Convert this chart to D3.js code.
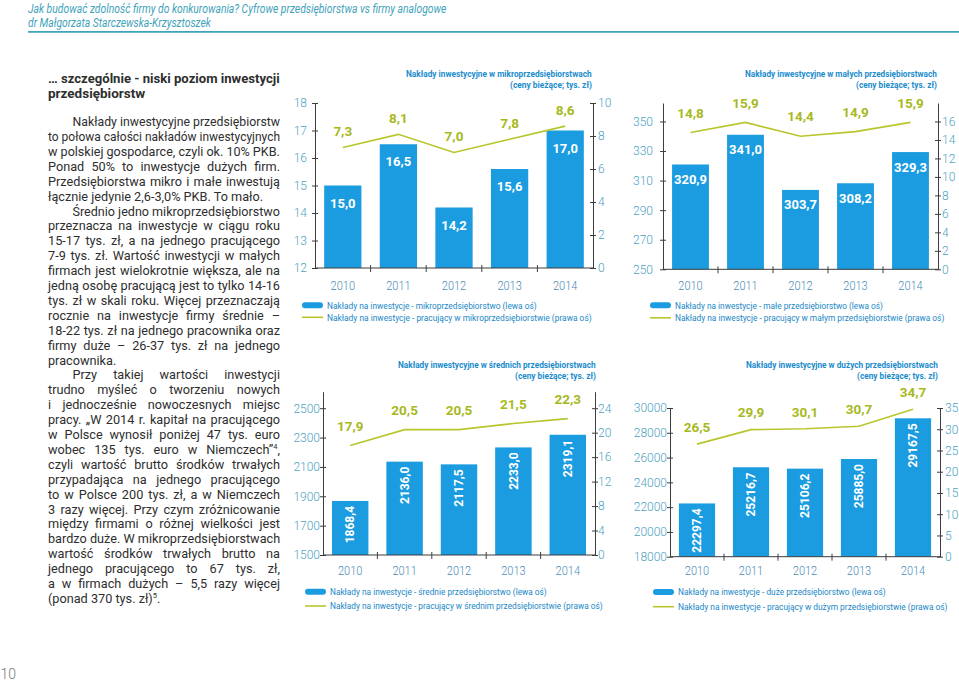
<!DOCTYPE html>
<html>
<head>
<meta charset="utf-8">
<script src="https://cdn.jsdelivr.net/npm/d3@7"></script>
<style>
  html, body { margin: 0; padding: 0; background: #fff; }
  svg { display: block; font-family: Roboto, "Noto Sans", sans-serif; }
</style>
</head>
<body>
<svg id="page" width="959" height="681"></svg>
<script>
// ---- data ----
const years = ['2010', '2011', '2012', '2013', '2014'];

const microFirm = [15.0, 16.5, 14.2, 15.6, 17.0];
const microWorker = [7.3, 8.1, 7.0, 7.8, 8.6];
const microLeftTicks = [12, 13, 14, 15, 16, 17, 18];
const microRightTicks = [0, 2, 4, 6, 8, 10];

const smallFirm = [320.9, 341.0, 303.7, 308.2, 329.3];
const smallWorker = [14.8, 15.9, 14.4, 14.9, 15.9];
const smallLeftTicks = [250, 270, 290, 310, 330, 350];
const smallRightTicks = [0, 2, 4, 6, 8, 10, 12, 14, 16];

const mediumFirm = [1868.4, 2136.0, 2117.5, 2233.0, 2319.1];
const mediumWorker = [17.9, 20.5, 20.5, 21.5, 22.3];
const mediumLeftTicks = [1500, 1700, 1900, 2100, 2300, 2500];
const mediumRightTicks = [0, 4, 8, 12, 16, 20, 24];

const largeFirm = [22297.4, 25216.7, 25106.2, 25885.0, 29167.5];
const largeWorker = [26.5, 29.9, 30.1, 30.7, 34.7];
const largeLeftTicks = [18000, 20000, 22000, 24000, 26000, 28000, 30000];
const largeRightTicks = [0, 5, 10, 15, 20, 25, 30, 35];

const microTitle = ['Nakłady inwestycyjne w mikroprzedsiębiorstwach', '(ceny bieżące; tys. zł)'];
const smallTitle = ['Nakłady inwestycyjne w małych przedsiębiorstwach', '(ceny bieżące; tys. zł)'];
const mediumTitle = ['Nakłady inwestycyjne w średnich przedsiębiorstwach', '(ceny bieżące; tys. zł)'];
const largeTitle = ['Nakłady inwestycyjne w dużych przedsiębiorstwach', '(ceny bieżące; tys. zł)'];

const microLegend = ['Nakłady na inwestycje - mikroprzedsiębiorstwo (lewa oś)', 'Nakłady na inwestycje - pracujący w mikroprzedsiębiorstwie (prawa oś)'];
const smallLegend = ['Nakłady na inwestycje - małe przedsiębiorstwo (lewa oś)', 'Nakłady na inwestycje - pracujący w małym przedsiębiorstwie (prawa oś)'];
const mediumLegend = ['Nakłady na inwestycje - średnie przedsiębiorstwo (lewa oś)', 'Nakłady na inwestycje - pracujący w średnim przedsiębiorstwie (prawa oś)'];
const largeLegend = ['Nakłady na inwestycje - duże przedsiębiorstwo (lewa oś)', 'Nakłady na inwestycje - pracujący w dużym przedsiębiorstwie (prawa oś)'];

const headerLines = ['Jak budować zdolność firmy do konkurowania? Cyfrowe przedsiębiorstwa vs firmy analogowe', 'dr Małgorzata Starczewska-Krzysztoszek'];
const headingLines = ['… szczególnie - niski poziom inwestycji', 'przedsiębiorstw|'];
// '>' = indented first line, '|' = last line of paragraph (not justified), ^n = superscript
const bodyLines = [
  '>Nakłady inwestycyjne przedsiębiorstw',
  'to połowa całości nakładów inwestycyjnych',
  'w polskiej gospodarce, czyli ok. 10% PKB.',
  'Ponad 50% to inwestycje dużych firm.',
  'Przedsiębiorstwa mikro i małe inwestują',
  'łącznie jedynie 2,6-3,0% PKB. To mało.|',
  '>Średnio jedno mikroprzedsiębiorstwo',
  'przeznacza na inwestycje w ciągu roku',
  '15-17 tys. zł, a na jednego pracującego',
  '7-9 tys. zł. Wartość inwestycji w małych',
  'firmach jest wielokrotnie większa, ale na',
  'jedną osobę pracującą jest to tylko 14-16',
  'tys. zł w skali roku. Więcej przeznaczają',
  'rocznie na inwestycje firmy średnie –',
  '18-22 tys. zł na jednego pracownika oraz',
  'firmy duże – 26-37 tys. zł na jednego',
  'pracownika.|',
  '>Przy takiej wartości inwestycji',
  'trudno myśleć o tworzeniu nowych',
  'i jednocześnie nowoczesnych miejsc',
  'pracy. „W 2014 r. kapitał na pracującego',
  'w Polsce wynosił poniżej 47 tys. euro',
  'wobec 135 tys. euro w Niemczech”^4,',
  'czyli wartość brutto środków trwałych',
  'przypadająca na jednego pracującego',
  'to w Polsce 200 tys. zł, a w Niemczech',
  '3 razy więcej. Przy czym zróżnicowanie',
  'między firmami o różnej wielkości jest',
  'bardzo duże. W mikroprzedsiębiorstwach',
  'wartość środków trwałych brutto na',
  'jednego pracującego to 67 tys. zł,',
  'a w firmach dużych – 5,5 razy więcej',
  '(ponad 370 tys. zł)^5.|'
];

// ---- styles ----
const BLUE = '#1b9ce0';
const LINE = '#b8c62c';
const GREEN_LABEL = '#a7b91d';
const AXIS = '#3d3d3d';
const NUM = '#4ea2bf';
const YEAR = '#4b8bb6';
const TITLE = '#1b8ccc';
const LEGEND = '#1a87c6';
const TEAL = '#3fa3bb';
const TEXT = '#2e2e2e';

const svg = d3.select('#page');
const fmt = d3.formatLocale({ decimal: ',', thousands: ' ', grouping: [3], currency: ['', ' zł'] }).format('.1f');

// horizontally compress a text to a given width (condensed look), keeping its real box
function squeeze(sel, w) {
  sel.each(function () {
    const t = d3.select(this);
    const nat = this.getComputedTextLength();
    const x = +t.attr('x') || 0, y = +t.attr('y') || 0;
    t.attr('x', 0).attr('y', 0).attr('transform', `translate(${x},${y}) scale(${w / nat},1)`);
  });
}
function condense(sel, k) {
  sel.each(function () {
    d3.select(this).call(squeeze, this.getComputedTextLength() * k);
  });
}

// ---- page header ----
svg.append('text').attr('x', 28).attr('y', 12.5).text(headerLines[0])
  .attr('fill', TEAL).style('font-size', '13.5px').style('font-style', 'italic')
  .call(squeeze, 419);
svg.append('text').attr('x', 28).attr('y', 27).text(headerLines[1])
  .attr('fill', TEAL).style('font-size', '13.5px').style('font-style', 'italic')
  .call(squeeze, 183);
svg.append('line').attr('x1', 28).attr('x2', 959).attr('y1', 31.8).attr('y2', 31.8)
  .attr('stroke', TEAL).attr('stroke-width', 1.8);

svg.append('text').attr('x', 0.5).attr('y', 679).text('10')
  .attr('fill', '#777').style('font-size', '14px').style('font-weight', 300);

// ---- left text column ----
function writeLine(str, x0, x1, y, size, weight) {
  let indent = 0, just = true;
  if (str.startsWith('>')) { indent = 24.5; str = str.slice(1); }
  if (str.endsWith('|')) { just = false; str = str.slice(0, -1); }
  const t = svg.append('text').attr('x', x0 + indent).attr('y', y).attr('dy', '0.35em')
    .attr('fill', TEXT).style('font-size', size + 'px').style('font-weight', weight);
  let raised = false;
  str.split(/(\^\d)/).forEach(part => {
    if (!part) return;
    if (part.startsWith('^')) {
      t.append('tspan').attr('dy', -4.5).style('font-size', '7.5px').text(part.slice(1));
      raised = true;
    } else {
      const sp = t.append('tspan').text(part);
      if (raised) { sp.attr('dy', 4.5); raised = false; }
    }
  });
  if (!just) return;
  const target = x1 - x0 - indent;
  const w = t.node().getComputedTextLength();
  const spaces = (str.match(/ /g) || []).length;
  if (w > target || spaces === 0) {
    t.call(squeeze, target);
  } else {
    t.style('word-spacing', ((target - w) / spaces) + 'px');
  }
}
headingLines.forEach((l, i) => writeLine(l, 48, 280, 78.3 + i * 14.5, 13.5, 700));
bodyLines.forEach((l, i) => writeLine(l, 48, 280, 121.7 + i * 14.9, 12.7, 400));

// ---- charts ----
const charts = [
  { firm: microFirm, worker: microWorker, leftTicks: microLeftTicks, rightTicks: microRightTicks,
    leftDomain: [12, 18], rightDomain: [0, 10], title: microTitle, legend: microLegend,
    x0: 315, x1: 593, y0: 268, y1: 103, lpad: 5, rpad: 2,
    titleX: 592, titleY: [73.3, 84.5], titleW: [186, 82], yearY: 285.5,
    legX: 302, legY: 305.3, legGap: 12, legW: [210, 265], rotate: false, lineOff: 16, barOff: 17.5 },
  { firm: smallFirm, worker: smallWorker, leftTicks: smallLeftTicks, rightTicks: smallRightTicks,
    leftDomain: [250, 362.5], rightDomain: [0, 18], title: smallTitle, legend: smallLegend,
    x0: 663, x1: 938, y0: 269.3, y1: 103, lpad: 7, rpad: 1,
    titleX: 937, titleY: [73.3, 84.5], titleW: [192, 81], yearY: 286,
    legX: 650, legY: 305.3, legGap: 12.5, legW: [208, 270], rotate: false, lineOff: 19.5, barOff: 15 },
  { firm: mediumFirm, worker: mediumWorker, leftTicks: mediumLeftTicks, rightTicks: mediumRightTicks,
    leftDomain: [1500, 2612.5], rightDomain: [0, 26.7], title: mediumTitle, legend: mediumLegend,
    x0: 323, x1: 595, y0: 555, y1: 391.7, lpad: 0, rpad: 0,
    titleX: 596, titleY: [365, 376], titleW: [198, 81], yearY: 570.7,
    legX: 305, legY: 591.7, legGap: 14.3, legW: [217, 273], rotate: true, lineOff: 19.5 },
  { firm: largeFirm, worker: largeWorker, leftTicks: largeLeftTicks, rightTicks: largeRightTicks,
    leftDomain: [18000, 30000], rightDomain: [0, 35], title: largeTitle, legend: largeLegend,
    x0: 670, x1: 940, y0: 556.7, y1: 408, lpad: 0, rpad: 2,
    titleX: 938, titleY: [365, 375.5], titleW: [192, 81], yearY: 570.7,
    legX: 653, legY: 592, legGap: 14.7, legW: [208, 270], rotate: true, lineOff: 17 }
];

charts.forEach(c => {
  const g = svg.append('g');
  const x = d3.scaleBand().domain(years).range([c.x0, c.x1]).paddingInner(0.33).paddingOuter(0.165);
  const yL = d3.scaleLinear().domain(c.leftDomain).range([c.y0, c.y1]);
  const yR = d3.scaleLinear().domain(c.rightDomain).range([c.y0, c.y1]);
  const cx = yr => x(yr) + x.bandwidth() / 2;

  // bars
  g.selectAll('rect.bar').data(c.firm).join('rect').attr('class', 'bar')
    .attr('x', (d, i) => x(years[i]))
    .attr('y', d => yL(d))
    .attr('width', x.bandwidth())
    .attr('height', d => c.y0 - yL(d))
    .attr('fill', BLUE);

  // axes
  const la = g.append('g').attr('transform', `translate(${c.x0},0)`)
    .call(d3.axisLeft(yL).tickValues(c.leftTicks).tickFormat(d3.format('d'))
      .tickSize(3).tickSizeOuter(0).tickPadding(c.lpad));
  la.selectAll('.tick line').attr('x1', 3);
  const ra = g.append('g').attr('transform', `translate(${c.x1},0)`)
    .call(d3.axisRight(yR).tickValues(c.rightTicks).tickFormat(d3.format('d'))
      .tickSize(3).tickSizeOuter(0).tickPadding(c.rpad));
  ra.selectAll('.tick line').attr('x1', -3);
  [la, ra].forEach(a => {
    a.attr('font-family', null).attr('font-size', null);
    a.select('.domain').attr('stroke', AXIS);
    a.selectAll('.tick line').attr('stroke', AXIS);
    a.selectAll('.tick text').attr('fill', NUM).style('font-size', '12px').style('font-weight', 300);
  });

  g.append('line').attr('x1', c.x0).attr('x2', c.x1).attr('y1', c.y0).attr('y2', c.y0).attr('stroke', AXIS);
  g.selectAll('line.sep').data(years.slice(1)).join('line').attr('class', 'sep')
    .attr('x1', d => x(d) - x.step() * x.paddingInner() / 2)
    .attr('x2', d => x(d) - x.step() * x.paddingInner() / 2)
    .attr('y1', c.y0 - 3).attr('y2', c.y0 + 4).attr('stroke', AXIS);

  g.selectAll('text.year').data(years).join('text').attr('class', 'year')
    .attr('x', d => cx(d)).attr('y', c.yearY).attr('dy', '0.35em').attr('text-anchor', 'middle')
    .attr('fill', YEAR).style('font-size', '12.5px').style('font-weight', 300)
    .text(d => d).call(condense, 0.88);

  // bar labels
  if (!c.rotate) {
    g.selectAll('text.bl').data(c.firm).join('text').attr('class', 'bl')
      .attr('x', (d, i) => cx(years[i])).attr('y', d => yL(d) + c.barOff).attr('dy', '0.35em')
      .attr('text-anchor', 'middle').attr('fill', '#fff')
      .style('font-size', '13px').style('font-weight', 700).text(d => fmt(d));
  } else {
    g.selectAll('text.bl').data(c.firm).join('text').attr('class', 'bl')
      .attr('transform', (d, i) => `translate(${cx(years[i])},${yL(d) + 5}) rotate(-90)`)
      .attr('dy', '0.35em').attr('text-anchor', 'end').attr('fill', '#fff')
      .style('font-size', '12px').style('font-weight', 700).text(d => fmt(d));
  }

  // line series
  const line = d3.line().x((d, i) => cx(years[i])).y(d => yR(d));
  g.append('path').datum(c.worker).attr('d', line)
    .attr('fill', 'none').attr('stroke', LINE).attr('stroke-width', 1.6);
  g.selectAll('text.ll').data(c.worker).join('text').attr('class', 'll')
    .attr('x', (d, i) => cx(years[i])).attr('y', d => yR(d) - c.lineOff).attr('dy', '0.35em')
    .attr('text-anchor', 'middle').attr('fill', GREEN_LABEL)
    .style('font-size', '13.5px').style('font-weight', 700).text(d => fmt(d));

  // title
  c.title.forEach((t, i) => {
    g.append('text').attr('x', c.titleX - c.titleW[i]).attr('y', c.titleY[i]).attr('dy', '0.35em')
      .attr('fill', TITLE)
      .style('font-size', '9.5px').style('font-weight', 700).text(t)
      .call(squeeze, c.titleW[i]);
  });

  // legend
  g.append('rect').attr('x', c.legX).attr('y', c.legY - 3).attr('width', 21).attr('height', 6)
    .attr('rx', 3).attr('fill', BLUE);
  g.append('line').attr('x1', c.legX).attr('x2', c.legX + 21)
    .attr('y1', c.legY + c.legGap).attr('y2', c.legY + c.legGap)
    .attr('stroke', LINE).attr('stroke-width', 1.6);
  c.legend.forEach((t, i) => {
    g.append('text').attr('x', c.legX + 25).attr('y', c.legY + i * c.legGap).attr('dy', '0.35em')
      .attr('fill', LEGEND).style('font-size', '9.5px').text(t)
      .call(squeeze, c.legW[i]);
  });
});
</script>
</body>
</html>
